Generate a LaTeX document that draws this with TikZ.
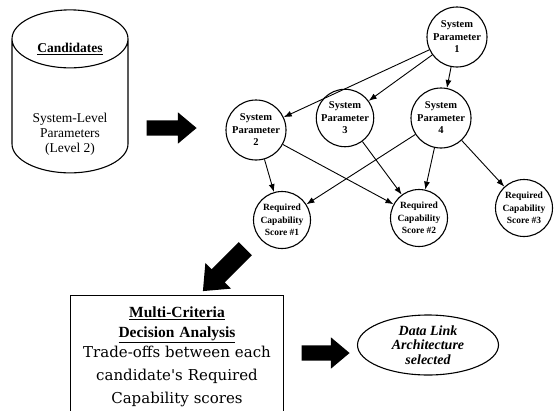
\documentclass[tikz,border=0pt]{standalone}
\usepackage{fontspec}
\setmainfont{Liberation Serif}
\newfontfamily\boxfont{DejaVu Serif}
\usetikzlibrary{shapes.geometric,shapes.arrows,arrows.meta}

\tikzset{
	param/.style={shape=circle,draw=black,line width=1.1pt,minimum size=60pt,inner sep=0pt,align=center,font=\fontsize{10.5}{12.5}\selectfont\bfseries},
	score/.style={param,minimum size=57pt,font=\fontsize{9.5}{12.5}\selectfont\bfseries},
	fatarrow/.style={single arrow,fill=black,inner sep=7.5pt,single arrow head extend=8pt,single arrow head indent=0pt,single arrow tip angle=80},
	link/.style={-{Latex[length=8pt,width=6pt]},line width=0.9pt},
}

\begin{document}
\begin{tikzpicture}[x=1pt,y=-1pt]
	\useasboundingbox (0,0) rectangle (556,410);

	\node[cylinder,shape border rotate=90,draw=black,line width=1.1pt,minimum width=116pt,minimum height=163pt,aspect=8.7] (cand) at (70,111) {};
	\node[font=\fontsize{13.5}{15}\selectfont\bfseries] (candtitle) at (70,49) {\underline{Candidates}};
	\node[align=center,font=\fontsize{13.5}{15}\selectfont] (candtext) at (70,134) {System-Level\\Parameters\\(Level 2)};

	\node[param] (p1) at (457,37)     {System\\Parameter\\1};
	\node[param] (p2) at (256,130)    {System\\Parameter\\2};
	\node[param,minimum size=56pt] (p3) at (345,118)    {System\\Parameter\\3};
	\node[param] (p4) at (441,118)    {System\\Parameter\\4};
	\node[score] (r1) at (282,220)    {Required\\Capability\\Score \#1};
	\node[score] (r2) at (419,218)    {Required\\Capability\\Score \#2};
	\node[score] (r3) at (524,208)    {Required\\Capability\\Score \#3};

	\path (p1) edge[link] (p2);
	\path (p1) edge[link] (p3);
	\path (p1) edge[link] (p4);
	\path (p2) edge[link] (r1);
	\path (p2) edge[link] (r2);
	\path (p3) edge[link] (r2);
	\path (p4) edge[link] (r1);
	\path (p4) edge[link] (r2);
	\path (p4) edge[link] (r3);

	\node[draw=black,line width=1.2pt,anchor=north,text width=205pt,inner xsep=4pt,inner ysep=11pt,align=center,font=\boxfont\fontsize{15}{23}\selectfont] (mcda) at (177,295)
		{{\setmainfont{Liberation Serif}\fontsize{15.5}{18}\selectfont\bfseries\underline{Multi-Criteria}\\[-3pt]\underline{Decision Analysis}}\\[-3pt]Trade-offs between each\\candidate's Required\\Capability scores};

	\node[ellipse,draw=black,line width=1.1pt,minimum width=141pt,minimum height=60pt,inner sep=-3pt,align=center,font=\fontsize{14}{14.5}\selectfont\bfseries\itshape] (arch) at (428,345) {Data Link\\Architecture\\selected};

	\node[fatarrow,minimum height=50pt] (a1) at (167,128) {};
	\node[fatarrow,minimum height=60pt,inner sep=9pt,single arrow head extend=9pt,rotate=225] (a2) at (228,266) {};
	\node[fatarrow,minimum height=48pt] (a3) at (321,353) {};
\end{tikzpicture}
\end{document}
